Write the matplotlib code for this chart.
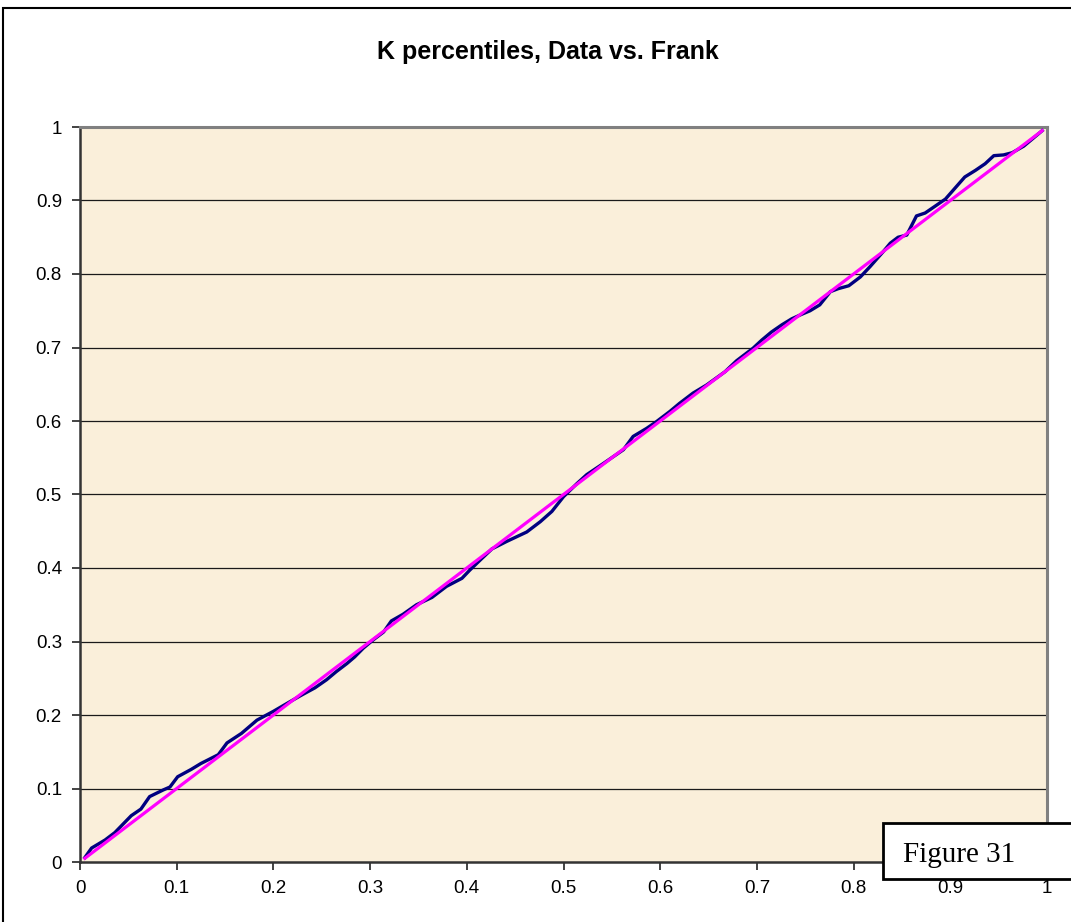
import matplotlib
matplotlib.use("Agg")
import matplotlib.pyplot as plt
from matplotlib.patches import Rectangle

# Data
data_x = [0.005, 0.012, 0.026, 0.036, 0.053, 0.063, 0.072, 0.086, 0.093, 0.101,
          0.115, 0.125, 0.143, 0.152, 0.167, 0.183, 0.200, 0.217, 0.229, 0.243,
          0.255, 0.265, 0.276, 0.284, 0.293, 0.303, 0.314, 0.322, 0.334, 0.348,
          0.364, 0.379, 0.395, 0.403, 0.414, 0.426, 0.441, 0.462, 0.476, 0.488,
          0.500, 0.514, 0.524, 0.541, 0.562, 0.572, 0.586, 0.596, 0.610, 0.620,
          0.634, 0.648, 0.667, 0.679, 0.696, 0.705, 0.715, 0.726, 0.736, 0.746,
          0.755, 0.765, 0.776, 0.784, 0.795, 0.807, 0.817, 0.831, 0.838, 0.846,
          0.855, 0.865, 0.874, 0.884, 0.895, 0.903, 0.915, 0.926, 0.936, 0.945,
          0.955, 0.964, 0.976, 0.986, 0.995]
data_y = [0.006, 0.019, 0.030, 0.040, 0.063, 0.072, 0.089, 0.098, 0.102, 0.116,
          0.126, 0.134, 0.146, 0.162, 0.175, 0.193, 0.205, 0.218, 0.227, 0.237,
          0.248, 0.259, 0.270, 0.279, 0.291, 0.302, 0.313, 0.328, 0.337, 0.350,
          0.360, 0.375, 0.386, 0.397, 0.411, 0.426, 0.436, 0.449, 0.463, 0.477,
          0.497, 0.515, 0.527, 0.542, 0.561, 0.579, 0.590, 0.599, 0.613, 0.624,
          0.638, 0.649, 0.667, 0.682, 0.699, 0.710, 0.721, 0.731, 0.739, 0.745,
          0.750, 0.758, 0.776, 0.780, 0.784, 0.796, 0.810, 0.831, 0.842, 0.850,
          0.853, 0.879, 0.883, 0.892, 0.902, 0.914, 0.932, 0.941, 0.950, 0.961,
          0.962, 0.965, 0.974, 0.985, 0.995]
frank_x = [0.005, 0.995]
frank_y = [0.005, 0.995]
ticks = [0, 0.1, 0.2, 0.3, 0.4, 0.5, 0.6, 0.7, 0.8, 0.9, 1]
tick_labels = ["0", "0.1", "0.2", "0.3", "0.4", "0.5", "0.6", "0.7", "0.8", "0.9", "1"]
title = "K percentiles, Data vs. Frank"
note = "Figure 31"

W, H = 1071, 922
fig = plt.figure(figsize=(W / 100, H / 100), dpi=100)
fig.patch.set_facecolor("white")

# chart area border (extends beyond the right/bottom edges)
fig.patches.append(Rectangle((3 / W, -0.1), 1.2, (H - 8) / H + 0.1,
                             transform=fig.transFigure, fill=False,
                             edgecolor="black", linewidth=1.5, zorder=0))

ax = fig.add_axes([80 / W, 60 / H, 967 / W, 735 / H])
ax.set_facecolor("#FAEFDA")
ax.set_xlim(0, 1)
ax.set_ylim(0, 1)

for t in ticks[1:-1]:
    ax.axhline(t, color="#1a1a1a", linewidth=0.9, zorder=1)

ax.plot(data_x, data_y, color="#000080", linewidth=2.4, zorder=3,
        solid_joinstyle="round")
ax.plot(frank_x, frank_y, color="#FF00FF", linewidth=2.3, zorder=4)

ax.set_xticks(ticks)
ax.set_xticklabels(tick_labels)
ax.set_yticks(ticks)
ax.set_yticklabels(tick_labels)
ax.tick_params(axis="both", direction="out", length=6, width=1.2,
               color="#222222", labelsize=13.5, pad=7)
for lab in ax.get_xticklabels() + ax.get_yticklabels():
    lab.set_family(["Liberation Sans", "DejaVu Sans"])

for side in ["top", "right"]:
    ax.spines[side].set_color("#808080")
    ax.spines[side].set_linewidth(2.2)
for side in ["left", "bottom"]:
    ax.spines[side].set_color("#333333")
    ax.spines[side].set_linewidth(1.8)

fig.text(548 / W, (H - 52) / H, title, ha="center", va="center",
         fontsize=18, fontweight="bold", family=["Liberation Sans", "DejaVu Sans"])

# "Figure 31" box
fig.patches.append(Rectangle((883 / W, (H - 879) / H), 0.3, 56 / H,
                             transform=fig.transFigure, facecolor="white",
                             edgecolor="black", linewidth=2, zorder=10))
fig.text(903 / W, (H - 862) / H, note, ha="left", va="baseline",
         fontsize=21, family=["Liberation Serif", "DejaVu Serif"], zorder=11)

fig.savefig("out.png", dpi=100)
